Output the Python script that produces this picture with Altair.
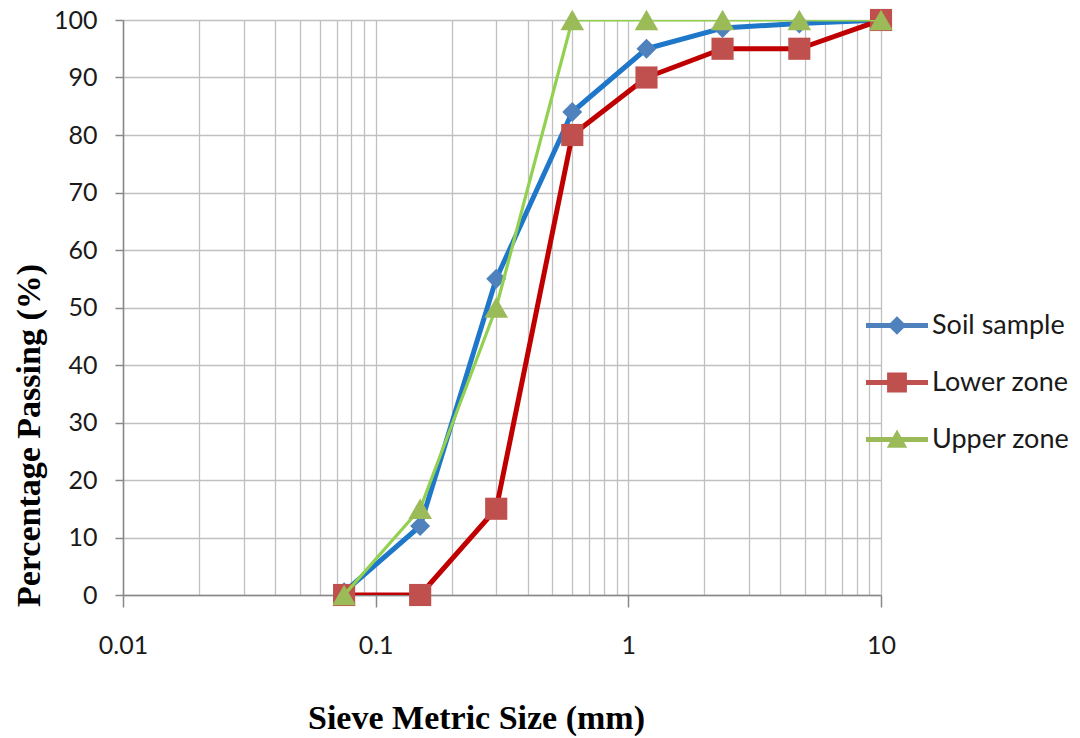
import altair as alt
import pandas as pd

# Sieve sizes (mm) and cumulative percentage passing
sieve_mm = [0.075, 0.15, 0.3, 0.6, 1.18, 2.36, 4.75, 10]
soil_sample = [0.5, 12, 55, 84, 95, 98.6, 99.4, 100]
lower_zone = [0, 0, 15, 80, 90, 95, 95, 100]
upper_zone = [0, 15, 50, 100, 100, 100, 100, 100]

series_names = ["Soil sample", "Lower zone", "Upper zone"]
series_values = [soil_sample, lower_zone, upper_zone]
line_colors = ["#1F77C9", "#C00000", "#92D050"]
marker_colors = ["#4F81BD", "#C0504D", "#9BBB59"]
marker_shapes = ["diamond", "square", "triangle-up"]
marker_sizes = [400, 490, 560]
line_widths = [5, 5, 3.2]

# legend glyphs: a short line with the series marker on top
legend_glyphs = [
    "M-1,-0.08H1V0.08H-1Z M0,-0.3L0.3,0L0,0.3L-0.3,0Z",
    "M-1,-0.08H1V0.08H-1Z M-0.32,-0.32H0.32V0.32H-0.32Z",
    "M-1,-0.08H1V0.08H-1Z M0,-0.32L0.33,0.27H-0.33Z",
]

rows = []
for name, vals in zip(series_names, series_values):
    for s, v in zip(sieve_mm, vals):
        rows.append({"series": name, "size": s, "passing": v})
df = pd.DataFrame(rows)

minor_ticks = [m * 10 ** e for e in (-2, -1, 0) for m in range(1, 10)] + [10]
is_decade = "abs(log(datum.value)/LN10 - round(log(datum.value)/LN10)) < 1e-6"

x_enc = alt.X(
    "size:Q",
    scale=alt.Scale(type="log", domain=[0.01, 10], nice=False),
    axis=alt.Axis(
        values=minor_ticks,
        grid=True,
        gridColor="#C0C0C0",
        gridWidth=1.3,
        domainColor="#888888",
        domainWidth=1.5,
        tickColor="#888888",
        tickWidth=1.5,
        tickSize=12,
        tickOpacity={"condition": {"test": is_decade, "value": 1}, "value": 0},
        labelExpr=f"({is_decade}) ? format(datum.value, '~g') : ''",
        labelFont="Lato",
        labelFontSize=25,
        labelColor="#1a1a1a",
        labelPadding=26,
        labelOverlap=False,
        labelFlush=False,
        title="Sieve Metric Size (mm)",
        titleFont="Liberation Serif",
        titleFontSize=34,
        titleFontWeight="bold",
        titleColor="#000000",
        titleX=353,
        titleY=123,
        titleAlign="center",
        titleBaseline="middle",
    ),
)

y_enc = alt.Y(
    "passing:Q",
    scale=alt.Scale(domain=[0, 100], nice=False),
    axis=alt.Axis(
        values=list(range(0, 101, 10)),
        grid=True,
        gridColor="#C0C0C0",
        gridWidth=1.3,
        domainColor="#888888",
        domainWidth=1.5,
        tickColor="#888888",
        tickWidth=1.5,
        tickSize=8,
        labelFont="Lato",
        labelFontSize=25,
        labelColor="#1a1a1a",
        labelPadding=18,
        title="Percentage Passing (%)",
        titleFont="Liberation Serif",
        titleFontSize=34,
        titleFontWeight="bold",
        titleColor="#000000",
        titleX=-94,
        titleY=415,
        titleAngle=270,
        titleAlign="center",
        titleBaseline="middle",
    ),
)

layers = []
for i, name in enumerate(series_names):
    base = alt.Chart(df).transform_filter(alt.datum.series == name)
    layers.append(
        base.mark_line(
            color=line_colors[i],
            strokeWidth=line_widths[i],
            strokeJoin="round",
            clip=True,
        ).encode(x=x_enc, y=y_enc)
    )
    layers.append(
        base.mark_point(
            shape=marker_shapes[i],
            size=marker_sizes[i],
            filled=True,
            opacity=1,
            color=marker_colors[i],
        ).encode(x=x_enc, y=y_enc)
    )

# empty layer that only carries the legend
legend_layer = (
    alt.Chart(df)
    .transform_filter("false")
    .mark_point(filled=True, opacity=1)
    .encode(
        x=x_enc,
        y=y_enc,
        color=alt.Color(
            "series:N",
            scale=alt.Scale(domain=series_names, range=marker_colors),
            legend=alt.Legend(
                title=None,
                orient="none",
                legendX=743,
                legendY=277,
                symbolSize=3844,
                symbolStrokeWidth=0,
                symbolOpacity=1,
                labelFont="Lato",
                labelFontSize=27,
                labelColor="#1a1a1a",
                labelOffset=4,
                clipHeight=57,
                rowPadding=0,
                padding=0,
            ),
        ),
        shape=alt.Shape(
            "series:N",
            scale=alt.Scale(domain=series_names, range=legend_glyphs),
        ),
    )
)

chart = (
    alt.layer(*layers, legend_layer)
    .properties(
        width=758,
        height=575,
        autosize="none",
        padding={"left": 123, "top": 20, "right": 199, "bottom": 143},
        background="white",
    )
    .configure_view(stroke=None)
)

chart.save("out.html", embed_options={"renderer": "svg", "actions": False})
